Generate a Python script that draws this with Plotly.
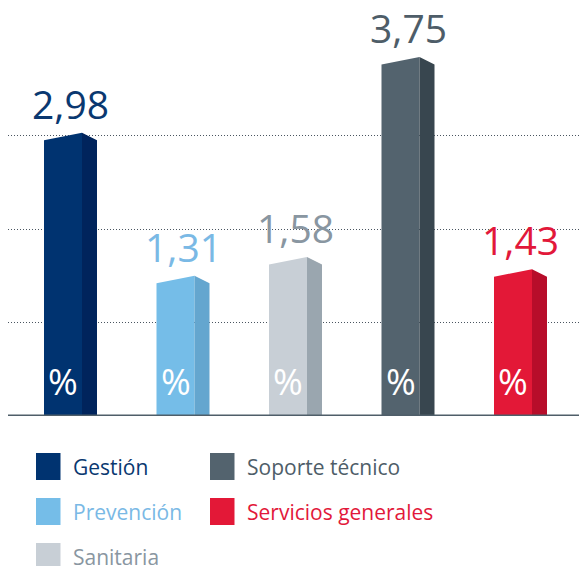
"""Bar chart of percentages by staff group, drawn with a flat 3D look."""

import plotly.graph_objects as go

# ── Data ────────────────────────────────────────────────────────────────────
categorias = ["Gestión", "Prevención", "Sanitaria", "Soporte técnico", "Servicios generales"]
etiquetas = ["2,98", "1,31", "1,58", "3,75", "1,43"]
# bar heights as drawn in the picture (gridlines at 1, 2, 3)
alturas = [2.95, 1.42, 1.62, 3.76, 1.49]

colores_frente = ["#003370", "#75bde8", "#c8cfd6", "#53636e", "#e31837"]
colores_lado = ["#00245c", "#64a6cf", "#9aa6af", "#38464f", "#b70d2a"]
colores_texto = ["#0a3870", "#7ab9e5", "#8996a1", "#4e5d68", "#e2183a"]

FUENTE = "Open Sans"

W, H = 579, 566
L, B = 8, 150                 # plot area: x 8..579, y 0..416 px
PX_X = 112.5                  # px per category
PX_Y = 93.5                   # px per unit
X0_PX = 63                    # centre of first bar front (px)

frente = 38 / PX_X
lado = 15 / PX_X
subida = 7.5 / PX_Y


def paper_x(px):
    return (px - L) / (W - L)


def paper_y(py):
    return (H - B - py) / (H - B)


fig = go.Figure()

for i, h in enumerate(alturas):
    xl, xr = i - frente / 2, i + frente / 2
    # front face
    fig.add_trace(go.Scatter(
        x=[xl, xl, xr, xr, xl], y=[0, h, h + subida, 0, 0],
        mode="lines", fill="toself", fillcolor=colores_frente[i],
        line=dict(width=0), hoverinfo="skip", showlegend=False,
    ))
    # side face
    fig.add_trace(go.Scatter(
        x=[xr, xr, xr + lado, xr + lado, xr], y=[0, h + subida, h, 0, 0],
        mode="lines", fill="toself", fillcolor=colores_lado[i],
        line=dict(width=0), hoverinfo="skip", showlegend=False,
    ))
    # value on top
    fig.add_annotation(
        x=i + lado / 2, y=h + subida, text=etiquetas[i], showarrow=False,
        xanchor="center", yanchor="bottom", yshift=1,
        font=dict(family=FUENTE, size=39, color=colores_texto[i]),
    )
    # % inside the bar
    fig.add_annotation(
        x=i, y=0, text="%", showarrow=False, xanchor="center", yanchor="middle",
        yshift=35, font=dict(family=FUENTE, size=36, color="white"),
    )

# baseline
fig.add_shape(type="line", xref="paper", yref="y", x0=0, x1=1, y0=0, y1=0,
              line=dict(color="#4f5e69", width=3), layer="above")

# ── Legend (two columns, column-major) ─────────────────────────────────────
for i, nombre in enumerate(categorias):
    col, fila = i // 3, i % 3
    sx = [36, 210][col]
    tx = [71, 245][col]
    top = 453 + 45 * fila
    fig.add_shape(
        type="rect", xref="paper", yref="paper",
        x0=paper_x(sx), x1=paper_x(sx + 24.5), y0=paper_y(top), y1=paper_y(top + 27),
        fillcolor=colores_frente[i], line=dict(width=0),
    )
    fig.add_annotation(
        xref="paper", yref="paper", x=paper_x(tx), y=paper_y(top + 13.5),
        text=nombre, showarrow=False, xanchor="left", yanchor="middle",
        font=dict(family=FUENTE, size=21, color=colores_texto[i]),
    )

fig.update_layout(
    width=W, height=H,
    margin=dict(l=L, r=0, t=0, b=B),
    plot_bgcolor="white", paper_bgcolor="white",
    showlegend=False,
)
fig.update_xaxes(
    range=[-(X0_PX - L) / PX_X, (W - X0_PX) / PX_X],
    showgrid=False, zeroline=False, showticklabels=False, ticks="",
)
fig.update_yaxes(
    range=[0, (H - B) / PX_Y], tickvals=[1, 2, 3],
    showgrid=True, gridcolor="#4a5560", gridwidth=1, griddash="1px,2px",
    zeroline=False, showticklabels=False, ticks="",
)

# the page's default body margin would shift the figure by 8 px
fig.write_html(
    "out.html",
    config={"displayModeBar": False},
    post_script="document.body.style.margin='0';",
)
